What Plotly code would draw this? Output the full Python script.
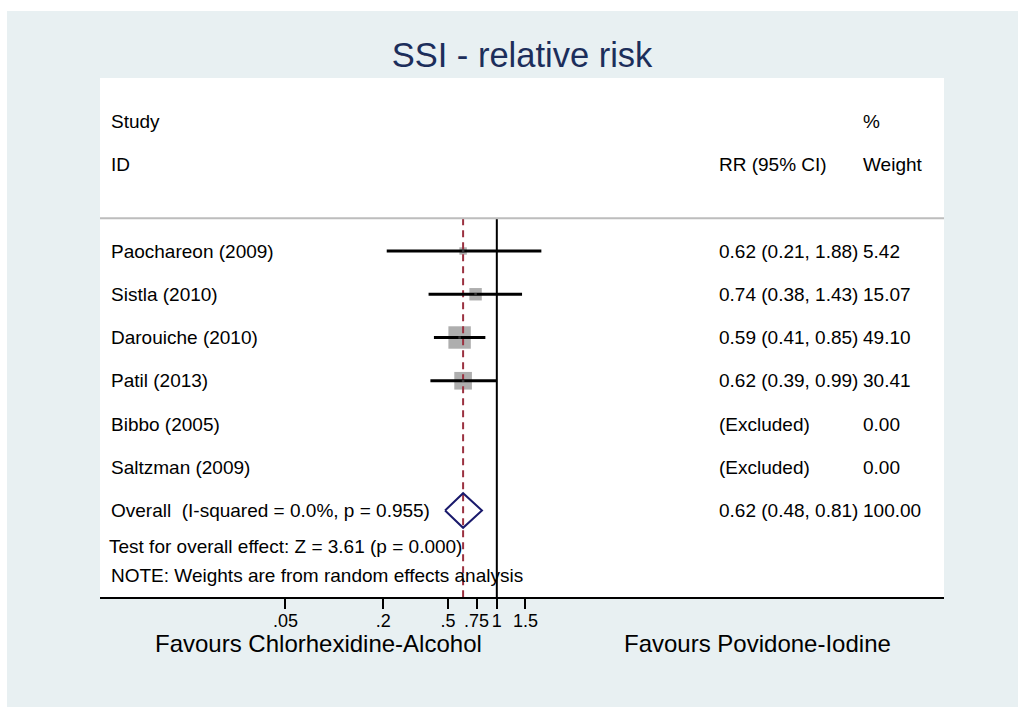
import math
import plotly.graph_objects as go

# ---- data ----
studies = ["Paochareon (2009)", "Sistla (2010)", "Darouiche (2010)", "Patil (2013)",
           "Bibbo (2005)", "Saltzman (2009)"]
rr = [0.62, 0.74, 0.59, 0.62, None, None]
ci_low = [0.21, 0.38, 0.41, 0.39, None, None]
ci_high = [1.88, 1.43, 0.85, 0.99, None, None]
weights = [5.42, 15.07, 49.10, 30.41, 0.00, 0.00]

overall_rr = 0.62
overall_low = 0.48
overall_high = 0.81
overall_label = "Overall\u00a0 (I-squared = 0.0%, p = 0.955)"
test_label = "Test for overall effect: Z = 3.61 (p = 0.000)"
note_label = "NOTE: Weights are from random effects analysis"

tick_vals = [0.05, 0.2, 0.5, 0.75, 1, 1.5]
tick_text = [".05", ".2", ".5", ".75", "1", "1.5"]

title_text = "SSI - relative risk"
left_label = "Favours Chlorhexidine-Alcohol"
right_label = "Favours Povidone-Iodine"

# ---- styling ----
FONT = "Liberation Sans, Arial, Helvetica, sans-serif"
W, H = 1018, 708
PL, PR, PT, PB = 100, 944, 78, 597   # plot area in page pixels
ML, MR, MT, MB = PL, W - PR, PT, H - PB
BLUE = "#E8F0F2"
TXT = 19

rows = list(range(1, len(studies) + 1))
overall_row = len(studies) + 1
header_line_row = 0.24
y_top = 9

fig = go.Figure()

# weight squares
sq_x = [r for r, w in zip(rr, weights) if r is not None and w > 0]
sq_y = [y for r, w, y in zip(rr, weights, rows) if r is not None and w > 0]
sq_s = [3.2 * math.sqrt(w) for r, w in zip(rr, weights) if r is not None and w > 0]
fig.add_trace(go.Scatter(x=sq_x, y=sq_y, mode="markers",
                         marker=dict(symbol="square", size=sq_s, color="#AEAEAE",
                                     opacity=1, line=dict(width=0)),
                         hoverinfo="skip", showlegend=False))

# reference line at 1
fig.add_trace(go.Scatter(x=[1, 1], y=[header_line_row, y_top], mode="lines",
                         line=dict(color="black", width=2), hoverinfo="skip",
                         showlegend=False))
# overall dashed line
fig.add_trace(go.Scatter(x=[overall_rr, overall_rr], y=[header_line_row, y_top],
                         mode="lines", line=dict(color="#9B3140", width=2, dash="7px,5px"),
                         hoverinfo="skip", showlegend=False))

# CI lines
ci_x, ci_y = [], []
for lo, hi, y in zip(ci_low, ci_high, rows):
    if lo is None:
        continue
    ci_x += [lo, hi, None]
    ci_y += [y, y, None]
fig.add_trace(go.Scatter(x=ci_x, y=ci_y, mode="lines",
                         line=dict(color="black", width=3), hoverinfo="skip",
                         showlegend=False))

# point estimates
fig.add_trace(go.Scatter(x=[r for r in rr if r is not None],
                         y=[y for r, y in zip(rr, rows) if r is not None],
                         mode="markers",
                         marker=dict(symbol="square", size=2.5, color="#333333"),
                         hoverinfo="skip", showlegend=False))

# overall diamond
dh = 0.4
fig.add_trace(go.Scatter(x=[overall_low, overall_rr, overall_high, overall_rr, overall_low],
                         y=[overall_row, overall_row - dh, overall_row, overall_row + dh, overall_row],
                         mode="lines", line=dict(color="#1A1A6C", width=2),
                         hoverinfo="skip", showlegend=False))

# ---- text ----
def px_to_paper(px):
    return (px - PL) / (PR - PL)

def py_to_paper(py):
    return (PB - py) / (PB - PT)

X_STUDY = px_to_paper(109)
X_CI = px_to_paper(717)
X_WT = px_to_paper(861)

ann = []
def txt(x, y, s, size=TXT, xref="paper", yref="y", xanchor="left", color="black"):
    ann.append(dict(x=x, y=y, text=s, xref=xref, yref=yref, xanchor=xanchor,
                    yanchor="middle", showarrow=False,
                    font=dict(family=FONT, size=size, color=color)))

txt(X_STUDY, -2, "Study")
txt(X_STUDY, -1, "ID")
txt(X_WT, -2, "%")
txt(X_CI, -1, "RR (95% CI)")
txt(X_WT, -1, "Weight")

for name, r, lo, hi, w, y in zip(studies, rr, ci_low, ci_high, weights, rows):
    txt(X_STUDY, y, name)
    if r is None:
        txt(X_CI, y, "(Excluded)")
    else:
        txt(X_CI, y, f"{r:.2f} ({lo:.2f}, {hi:.2f})")
    txt(X_WT, y, f"{w:.2f}")

txt(X_STUDY, overall_row, overall_label)
txt(X_CI, overall_row, f"{overall_rr:.2f} ({overall_low:.2f}, {overall_high:.2f})")
txt(X_WT, overall_row, f"{sum(weights):.2f}")
txt(px_to_paper(107), 7.83, test_label)
txt(X_STUDY, 8.51, note_label)

txt(px_to_paper(318), py_to_paper(643), left_label, size=24, yref="paper", xanchor="center")
txt(px_to_paper(757.5), py_to_paper(643), right_label, size=24, yref="paper", xanchor="center")

shapes = [
    # header separator
    dict(type="line", xref="paper", yref="y", x0=0, x1=1, y0=header_line_row, y1=header_line_row,
         line=dict(color="#BDBDBD", width=2)),
    # thin white strips outside the bluish graph region (left, top, bottom)
    dict(type="rect", xref="paper", yref="paper", x0=px_to_paper(-5), x1=px_to_paper(7),
         y0=-1, y1=2, fillcolor="white", line=dict(width=0), layer="below"),
    dict(type="rect", xref="paper", yref="paper", x0=-1, x1=2,
         y0=py_to_paper(11), y1=2, fillcolor="white", line=dict(width=0), layer="below"),
    dict(type="rect", xref="paper", yref="paper", x0=-1, x1=2,
         y0=-1, y1=py_to_paper(707), fillcolor="white", line=dict(width=0), layer="below"),
]

fig.update_layout(
    width=W, height=H,
    margin=dict(l=ML, r=MR, t=MT, b=MB, pad=0),
    paper_bgcolor=BLUE, plot_bgcolor="white",
    title=dict(text=title_text, x=522 / W, xanchor="center", xref="container",
               y=1 - 55 / H, yanchor="middle",
               font=dict(family=FONT, size=34.5, color="#1C2E5B")),
    xaxis=dict(type="log", range=[-2.443, 2.753], tickvals=tick_vals, ticktext=tick_text,
               showgrid=False, zeroline=False, showline=True, linecolor="black", linewidth=2,
               ticks="outside", ticklen=10, tickwidth=2, tickcolor="black",
               ticklabelstandoff=-4,
               tickfont=dict(family=FONT, size=18, color="black"), fixedrange=True),
    yaxis=dict(range=[y_top, -3], visible=False, showgrid=False, zeroline=False, fixedrange=True),
    annotations=ann, shapes=shapes, showlegend=False, hovermode=False,
)

fig.write_html("out.html", config={"displayModeBar": False, "staticPlot": True},
               post_script="document.body.style.margin='0';document.body.style.overflow='hidden';")
